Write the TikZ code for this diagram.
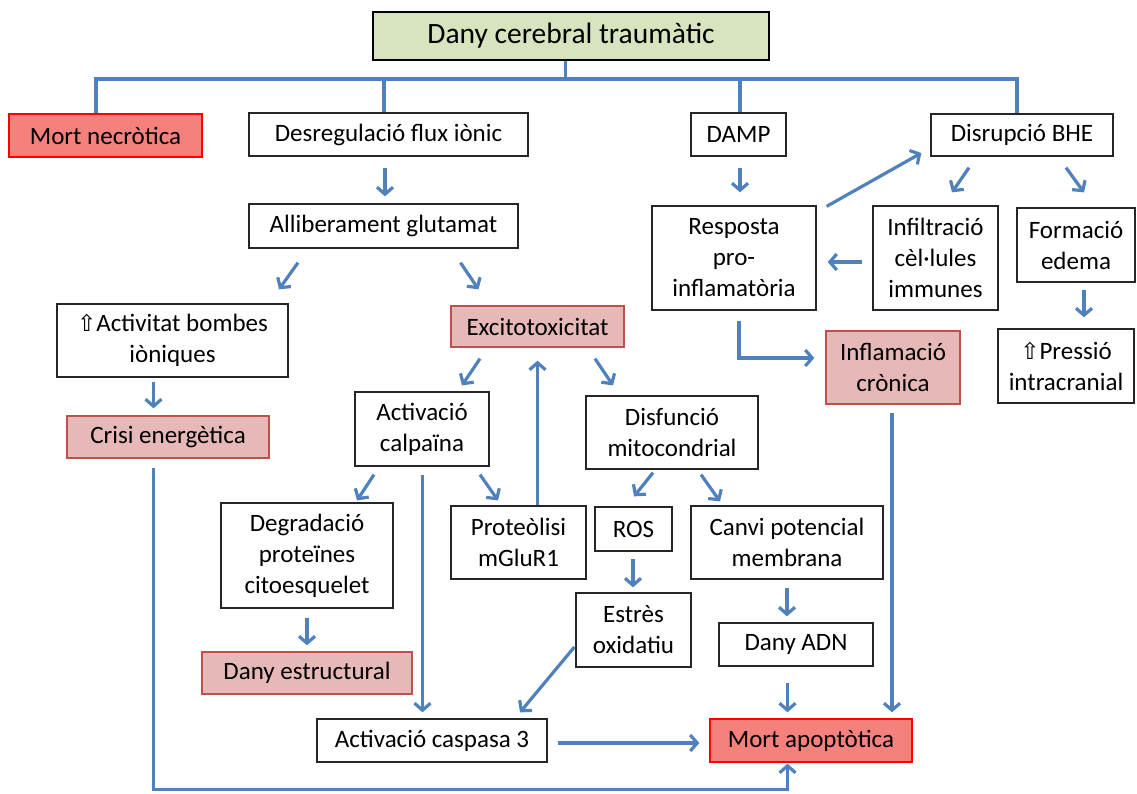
\documentclass[tikz,border=0pt]{standalone}
\usepackage{fontspec}
\setmainfont{Carlito}
\newfontfamily\symfont{DejaVu Sans}
\usetikzlibrary{arrows.meta,calc}
\definecolor{myblue}{HTML}{4F81BD}
\definecolor{titlegreen}{HTML}{D7E4BD}
\definecolor{pinkfill}{HTML}{E6B9B8}
\definecolor{pinkline}{HTML}{C0504D}
\definecolor{redfill}{HTML}{F4817C}
\newcommand{\up}{{\symfont\fontsize{23}{31}\selectfont ⇧}}
\tikzset{
  box/.style={draw=black!85, line width=1.3pt, fill=white, inner sep=0pt, align=center,
    font=\fontsize{25}{31}\selectfont},
  pinkbox/.style={box, fill=pinkfill, draw=pinkline},
  redbox/.style={box, fill=redfill, draw=red},
  titlebox/.style={box, fill=titlegreen, draw=black, line width=2.2pt, font=\fontsize{29.5}{35}\selectfont},
  conn/.style={draw=myblue, line width=3.2pt},
  arr/.style={conn, -{Straight Barb[length=7pt,width=16pt]}},
}
\begin{document}
\begin{tikzpicture}[x=1pt,y=-1pt]
\useasboundingbox (0,0) rectangle (1137,794);
% nodes
\node[titlebox, minimum width=396, minimum height=48] (title) at (571,36) {Dany cerebral traumàtic};
\node[redbox, minimum width=193, minimum height=43] (necro) at (105.5,135.5) {Mort necròtica};
\node[box, minimum width=279, minimum height=43] (desreg) at (388.5,134.5) {Desregulació flux iònic};
\node[box, minimum width=95, minimum height=43] (damp) at (738.5,134.5) {DAMP};
\node[box, minimum width=182, minimum height=42] (bhe) at (1022,135) {Disrupció BHE};
\node[box, minimum width=269, minimum height=44] (allib) at (383.5,226) {Alliberament glutamat};
\node[box, minimum width=231, minimum height=73] (bombes) at (172.5,340.5) {\up Activitat bombes\\iòniques};
\node[pinkbox, minimum width=202, minimum height=42] (crisi) at (168,437) {Crisi energètica};
\node[pinkbox, minimum width=173, minimum height=41] (excito) at (537.5,326.5) {Excitotoxicitat};
\node[box, minimum width=134, minimum height=74] (calp) at (422,429) {Activació\\calpaïna};
\node[box, minimum width=172, minimum height=73] (disf) at (672,432.5) {Disfunció\\mitocondrial};
\node[box, minimum width=164, minimum height=104] (resp) at (734,258) {Resposta\\pro-\\inflamatòria};
\node[box, minimum width=125, minimum height=104] (infil) at (935.5,258) {Infiltració\\cèl·lules\\immunes};
\node[box, minimum width=118, minimum height=74] (edema) at (1076,245) {Formació\\edema};
\node[box, minimum width=136, minimum height=74] (press) at (1066,366) {\up Pressió\\intracranial};
\node[pinkbox, minimum width=134, minimum height=73] (infl) at (893,367.5) {Inflamació\\crònica};
\node[box, minimum width=172, minimum height=105] (degr) at (307,555.5) {Degradació\\proteïnes\\citoesquelet};
\node[box, minimum width=135, minimum height=73] (prot) at (518.5,542.5) {Proteòlisi\\mGluR1};
\node[box, minimum width=77, minimum height=44] (ros) at (633.5,529) {ROS};
\node[box, minimum width=192, minimum height=73] (canvi) at (787,542.5) {Canvi potencial\\membrana};
\node[box, minimum width=115, minimum height=74] (estres) at (633.5,630) {Estrès\\oxidatiu};
\node[box, minimum width=154, minimum height=43] (adn) at (796,644.5) {Dany ADN};
\node[pinkbox, minimum width=210, minimum height=42] (estruct) at (307,673) {Dany estructural};
\node[box, minimum width=230, minimum height=43] (casp) at (432,740.5) {Activació caspasa 3};
\node[redbox, minimum width=202, minimum height=43] (apop) at (811,740.5) {Mort apoptòtica};
% bus
\coordinate (bus) at (571,79);
\draw[conn] ([xshift=-5.5pt]title.south) -- ([xshift=-5.5pt]title.south |- bus);
\draw[conn] ([xshift=-9.5pt]necro.north) |- ([xshift=-5pt]bhe.north |- bus) -- ([xshift=-5pt]bhe.north);
\draw[conn] ([xshift=-4.5pt]desreg.north) -- ([xshift=-4.5pt]desreg.north |- bus);
\draw[conn] ([xshift=1.5pt]damp.north) -- ([xshift=1.5pt]damp.north |- bus);
% arrows
\draw[arr] ($(desreg.south)+(-3.5,11)$) -- ($(allib.north)+(1.5,-7)$);
\draw[arr] ($(allib.south)+(-85.5,14)$) -- ($(bombes.north)+(106.5,-14)$);
\draw[arr] ($(allib.south)+(77,14)$) -- ($(excito.north)+(-59,-16)$);
\draw[arr] ($(bombes.south)+(-19,4)$) -- ($(crisi.north)+(-14.5,-7)$);
\draw[arr] ($(excito.south)+(-57.5,11)$) -- ($(calp.north)+(40,-6)$);
\draw[arr] ($(excito.south)+(57.5,11)$) -- ($(disf.north)+(-59,-10)$);
\draw[arr] ($(calp.south)+(-48,8)$) -- ($(degr.north)+(50,-2)$);
\draw[arr] ($(calp.south)+(58,8)$) -- ($(prot.north)+(-20.5,-5)$);
\draw[arr] ($(calp.south)+(0.5,8)$) -- ($(casp.north)+(-9.5,-6)$);
\draw[arr] ($(prot.north)+(19,0)$) -- ($(excito.south)+(0,13)$);
\draw[arr] ($(disf.south)+(-19,3)$) -- ($(ros.north)+(0.5,-10)$);
\draw[arr] ($(disf.south)+(29,5)$) -- ($(canvi.north)+(-67,-4)$);
\draw[arr] ($(ros.south)+(-0.5,7)$) -- ($(estres.north)+(-0.5,-5)$);
\draw[arr] ($(canvi.south)+(0,8)$) -- ($(adn.north)+(-9,-6)$);
\draw[arr] ($(degr.south)+(0,9)$) -- ($(estruct.north)+(0,-6)$);
\draw[arr] ($(estres.west)+(-1,17)$) -- ($(casp.north)+(88,-6)$);
\draw[arr] ($(casp.east)+(10,2.5)$) -- ($(apop.west)+(-10,2.5)$);
\draw[arr] ($(adn.south)+(-8.5,16)$) -- ($(apop.north)+(-23.5,-6)$);
\draw[arr] ($(infl.south)+(-1,8)$) -- ($(apop.north)+(81,-6)$);
\draw[arr] ($(crisi.south)+(-14.5,9)$) -- ++(0,322) -| ($(apop.south)+(-23.5,1)$);
\draw[arr] ($(resp.south)+(5,10)$) |- ($(infl.west)+(-11,-9.5)$);
\draw[arr] ($(infil.west)+(-10,4)$) -- ($(resp.east)+(11,4)$);
\draw[arr] ($(resp.north east)+(10,1)$) -- ($(bhe.west)+(-9,18)$);
\draw[arr] ($(bhe.south)+(-53,11)$) -- ($(infil.north)+(16.5,-13)$);
\draw[arr] ($(bhe.south)+(44,11)$) -- ($(edema.north)+(8,-15)$);
\draw[arr] ($(damp.south)+(1.5,11)$) -- ($(resp.north)+(6,-13)$);
\draw[arr] ($(edema.south)+(8,7)$) -- ($(press.north)+(18,-11)$);
\end{tikzpicture}
\end{document}
